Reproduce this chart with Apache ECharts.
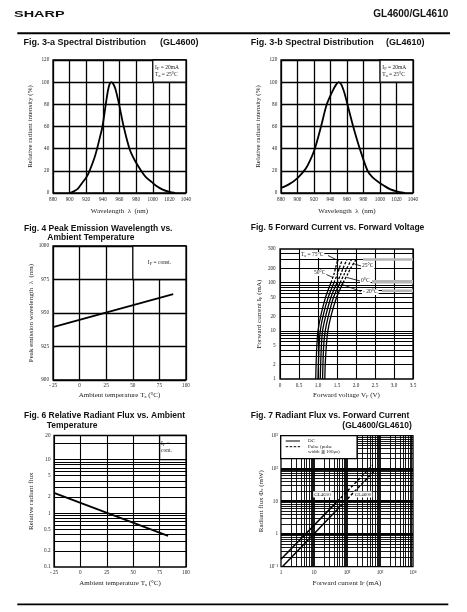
<!DOCTYPE html>
<html>
<head>
<meta charset="utf-8">
<script src="https://cdn.jsdelivr.net/npm/echarts@6.0.0/dist/echarts.min.js"></script>
<style>
html,body{margin:0;padding:0;background:#fff;}
#chart{width:467px;height:612px;}
</style>
</head>
<body>
<div id="chart"></div>
<script>
// ================= DATA =================
// Fig. 3-a Spectral distribution (GL4600)
const spec4600Wave = [900,905,910,916,920,924,930,933,937,939.5,943.5,946,948,950,952,955,959.5,965,972,978,986,992,998.5,1005,1012,1020,1027];
const spec4600Val  = [0,1.5,4,10,14,20,32,40,52,60,80,92,98,100,99,94,80,60,40,30,20,14,10,6,3,1,0];
// Fig. 3-b Spectral distribution (GL4610)
const spec4610Wave = [880,890,900,910,915,921,928.5,935.5,942.5,947,950,953,957,960.5,967.5,975.5,985,991,998,1005,1012,1020,1030];
const spec4610Val  = [4.5,8,13.5,22,29,40,60,80,92,98,100,98,90,80,60,40,20,14,10,6.5,3.5,1.5,0];
// Fig. 4 Peak emission wavelength vs ambient temperature
const fig4Temp = [-25, 88];
const fig4Peak = [939.5, 964];
// Fig. 5 Forward current vs forward voltage (DC solid, pulse dashed)
const fwdCurrentDC    = [1, 2, 5, 10, 20, 50, 100];
const fwdCurrentPulse = [100, 150, 200, 300];
const vf75   = [0.94, 0.95, 0.97, 1.00, 1.07, 1.20, 1.34];
const vf75P  = [1.34, 1.42, 1.46, 1.52];
const vf50   = [1.00, 1.01, 1.03, 1.06, 1.13, 1.27, 1.42];
const vf50P  = [1.42, 1.51, 1.56, 1.64];
const vf25   = [1.06, 1.07, 1.09, 1.12, 1.20, 1.34, 1.50];
const vf25P  = [1.50, 1.60, 1.66, 1.76];
const vf0    = [1.12, 1.13, 1.15, 1.19, 1.27, 1.41, 1.58];
const vf0P   = [1.58, 1.69, 1.76, 1.88];
const vfm20  = [1.18, 1.19, 1.22, 1.26, 1.34, 1.49, 1.66];
const vfm20P = [1.66, 1.78, 1.86, 2.00];
// Fig. 6 Relative radiant flux vs ambient temperature
const fig6Temp = [-25, 83];
const fig6Flux = [2.4, 0.38];
// Fig. 7 Radiant flux vs forward current
const if4610DC = [1, 50],    pe4610DC = [0.17, 9.7];
const if4610P  = [50, 600],  pe4610P  = [9.7, 127];
const if4600DC = [1.1, 50],  pe4600DC = [0.1, 5.5];
const if4600P  = [50, 750],  pe4600P  = [5.5, 94];

// ================= AXES / TICKS =================
const fig3XRange = [880, 1040, 20];
const fig3YRange = [0, 120, 20];
const fig4XRange = [-25, 100, 25];
const fig4YRange = [900, 1000, 25];
const fig5XRange = [0, 3.5, 0.5];
const fig5YRange = [1, 500];
const fig6XRange = [-25, 100, 25];
const fig6YRange = [0.1, 28];
const fig7XRange = [1, 10000];
const fig7YRange = [0.1, 1000];

const fig5YLabels = [1, 2, 5, 10, 20, 50, 100, 200, 500];
const fig5YGrid = [2,3,4,5,6,7,8,9,10,20,30,40,50,60,70,80,90,100,200,300,400];
const fig6YLabelVals = [0.1, 0.2, 0.5, 1, 2, 5, 10, 28];
const fig6YLabelText = ['0.1', '0.2', '0.5', '1', '2', '5', '10', '20'];
const fig6YGrid = [0.2,0.3,0.4,0.5,0.6,0.7,0.8,0.9,1,2,3,4,5,6,7,8,9,10,20];
const fig7XLabels = ['1', '10', '10²', '10³', '10⁴'];
const fig7YLabels = ['10⁻¹', '1', '10', '10²', '10³'];
const fig7XGrid = [2,3,4,5,6,7,8,9,20,30,40,50,60,70,80,90,200,300,400,500,600,700,800,900,2000,3000,4000,5000,6000,7000,8000,9000];
const fig7XDecades = [10, 100, 1000];
const fig7YGrid = [0.2,0.3,0.4,0.5,0.6,0.7,0.8,0.9,2,3,4,5,6,7,8,9,20,30,40,50,60,70,80,90,200,300,400,500,600,700,800,900];
const fig7YDecades = [1, 10, 100];

// ================= HELPERS =================
const SERIF = '"Liberation Serif","Times New Roman",serif';
const SANS = '"Liberation Sans",Arial,sans-serif';
const INK = '#1a1a1a';
const zip = (xs, ys) => xs.map((x, i) => [x, ys[i]]);
const fmtTemp = v => v < 0 ? '- ' + Math.abs(v) : String(v);
const fmtPlain = v => String(v);
const subRich = {sub: {fontFamily: SERIF, fontSize: 4.5, color: INK, verticalAlign: 'bottom'}};
const tickStyle = (margin, extra) => Object.assign({show: true, margin, fontFamily: SERIF, fontSize: 5.2, color: INK, formatter: fmtPlain}, extra || {});
const nameStyle = {fontFamily: SERIF, fontSize: 7, color: INK, rich: subRich};
const split = w => ({show: true, lineStyle: {color: '#000', width: w, type: 'solid'}});

function valAxis(gi, range, opts) {
  return Object.assign({gridIndex: gi, type: 'value', min: range[0], max: range[1], interval: range[2],
    axisLine: {show: false}, axisTick: {show: false}, splitLine: split(1.3),
    nameLocation: 'middle', nameTextStyle: nameStyle, silent: true}, opts);
}
function logAxis(gi, range, opts) {
  return Object.assign({gridIndex: gi, type: 'log', logBase: 10, min: range[0], max: range[1],
    axisLine: {show: false}, axisTick: {show: false}, splitLine: {show: false},
    nameLocation: 'middle', nameTextStyle: nameStyle, silent: true}, opts);
}
function boxMark(p1, p2, text, pos, dist) {
  return {silent: true, itemStyle: {color: '#fff', borderColor: '#000', borderWidth: 1.3},
    label: {show: true, position: pos, distance: dist, formatter: text, fontFamily: SERIF, fontSize: 5.5,
      color: INK, lineHeight: 7, rich: subRich},
    emphasis: {disabled: true},
    data: [[{coord: p1}, {coord: p2}]]};
}
function gridLinesSeries(gi, xs, ys, w, xThick, yThick, wThick) {
  const data = [];
  (xs || []).forEach(v => data.push({xAxis: v}));
  (ys || []).forEach(v => data.push({yAxis: v}));
  (xThick || []).forEach(v => data.push({xAxis: v, lineStyle: {width: wThick}}));
  (yThick || []).forEach(v => data.push({yAxis: v, lineStyle: {width: wThick}}));
  return {type: 'line', xAxisIndex: gi, yAxisIndex: gi, data: [], z: 1, silent: true,
    markLine: {silent: true, symbol: ['none', 'none'], label: {show: false}, emphasis: {disabled: true},
      lineStyle: {color: '#000', type: 'solid', width: w}, data}};
}
function curve(gi, data, extra) {
  return Object.assign({type: 'line', xAxisIndex: gi, yAxisIndex: gi, data, showSymbol: false, silent: true,
    lineStyle: {color: '#000', width: 1.8}, z: 3}, extra || {});
}

// ================= GRIDS =================
const grids = [
  {left: 53,  top: 60,    width: 133, height: 133},
  {left: 281, top: 60,    width: 132, height: 133},
  {left: 53,  top: 246,   width: 133, height: 134},
  {left: 280, top: 249,   width: 133, height: 130},
  {left: 54,  top: 435.5, width: 132, height: 131.5},
  {left: 281, top: 435.7, width: 132, height: 131}
].map(g => Object.assign(g, {show: true, borderColor: '#000', borderWidth: 1.3, backgroundColor: 'transparent'}));

const xAxes = [
  valAxis(0, fig3XRange, {axisLabel: tickStyle(3.8), name: 'Wavelength  λ  (nm)', nameGap: 14.5}),
  valAxis(1, fig3XRange, {axisLabel: tickStyle(3.8), name: 'Wavelength  λ  (nm)', nameGap: 14.5}),
  valAxis(2, fig4XRange, {axisLabel: tickStyle(2.9, {formatter: fmtTemp}), name: 'Ambient temperature T{sub|a} (°C)', nameGap: 12}),
  valAxis(3, fig5XRange, {splitLine: split(1.1), axisLabel: tickStyle(4.2, {formatter: v => v === 0 ? '0' : v.toFixed(1)}), name: 'Forward voltage V{sub|F} (V)', nameGap: 13}),
  valAxis(4, fig6XRange, {splitLine: split(1.1), axisLabel: tickStyle(2.8, {formatter: fmtTemp}), name: 'Ambient temperature T{sub|a} (°C)', nameGap: 13}),
  logAxis(5, fig7XRange, {axisLabel: tickStyle(3.1, {formatter: v => fig7XLabels[Math.round(Math.log10(v))]}), name: 'Forward current I{sub|F} (mA)', nameGap: 13})
];
const yAxes = [
  valAxis(0, fig3YRange, {axisLabel: tickStyle(3.7), name: 'Relative radiant intensity (%)', nameRotate: 90, nameGap: 19.5}),
  valAxis(1, fig3YRange, {axisLabel: tickStyle(3.7), name: 'Relative radiant intensity (%)', nameRotate: 90, nameGap: 19.8}),
  valAxis(2, fig4YRange, {axisLabel: tickStyle(4), name: 'Peak emission wavelength  λ  (nm)', nameRotate: 90, nameGap: 17}),
  logAxis(3, fig5YRange, {axisLabel: tickStyle(4.3, {customValues: fig5YLabels, formatter: v => String(Math.round(v))}), name: 'Forward current I{sub|F} (mA)', nameRotate: 90, nameGap: 17}),
  logAxis(4, fig6YRange, {axisLabel: tickStyle(3.5, {customValues: fig6YLabelVals, formatter: v => {
      let bi = 0; fig6YLabelVals.forEach((lv, i) => { if (Math.abs(Math.log10(lv) - Math.log10(v)) < Math.abs(Math.log10(fig6YLabelVals[bi]) - Math.log10(v))) bi = i; });
      return fig6YLabelText[bi]; }}), name: 'Relative radiant flux', nameRotate: 90, nameGap: 19}),
  logAxis(5, fig7YRange, {axisLabel: tickStyle(3, {formatter: v => fig7YLabels[Math.round(Math.log10(v)) + 1]}), name: 'Radiant flux Φ{sub|e} (mW)', nameRotate: 90, nameGap: 16.5})
];

// ================= SERIES =================
const dashed = {color: '#000', width: 1.3, type: [2.5, 1.5]};
const solidThin = {color: '#000', width: 1.3};
const series = [
  curve(0, zip(spec4600Wave, spec4600Val), {smooth: 0.3,
    markArea: boxMark([1000, 100], [1040, 120], 'I{sub|F} = 20mA\nT{sub|a} = 25°C', 'insideLeft', 3)}),
  curve(1, zip(spec4610Wave, spec4610Val), {smooth: 0.3,
    markArea: boxMark([1000, 100], [1040, 120], 'I{sub|F} = 20mA\nT{sub|a} = 25°C', 'insideLeft', 3)}),
  curve(2, zip(fig4Temp, fig4Peak), {markArea: boxMark([50, 975], [100, 1000], 'I{sub|F} = const.', 'inside', 0)}),
  // Fig 5
  gridLinesSeries(3, [], fig5YGrid, 1.1),
  curve(3, zip(vf75, fwdCurrentDC),  {smooth: 0.3, lineStyle: solidThin}),
  curve(3, zip(vf50, fwdCurrentDC),  {smooth: 0.3, lineStyle: solidThin}),
  curve(3, zip(vf25, fwdCurrentDC),  {smooth: 0.3, lineStyle: solidThin}),
  curve(3, zip(vf0, fwdCurrentDC),   {smooth: 0.3, lineStyle: solidThin}),
  curve(3, zip(vfm20, fwdCurrentDC), {smooth: 0.3, lineStyle: solidThin}),
  curve(3, zip(vf75P, fwdCurrentPulse),  {smooth: 0.3, lineStyle: dashed}),
  curve(3, zip(vf50P, fwdCurrentPulse),  {smooth: 0.3, lineStyle: dashed}),
  curve(3, zip(vf25P, fwdCurrentPulse),  {smooth: 0.3, lineStyle: dashed}),
  curve(3, zip(vf0P, fwdCurrentPulse),   {smooth: 0.3, lineStyle: dashed}),
  curve(3, zip(vfm20P, fwdCurrentPulse), {smooth: 0.3, lineStyle: dashed}),
  // Fig 6
  gridLinesSeries(4, [], fig6YGrid, 1.1),
  curve(4, zip(fig6Temp, fig6Flux), {markArea: boxMark([75, 10], [100, 28], 'I{sub|F} =\ncont.', 'insideLeft', 2)}),
  // Fig 7
  gridLinesSeries(5, fig7XGrid, fig7YGrid, 0.9, fig7XDecades, fig7YDecades, 1.8),
  curve(5, zip(if4610DC, pe4610DC), {lineStyle: {color: '#000', width: 1.5}}),
  curve(5, zip(if4610P, pe4610P), {lineStyle: {color: '#000', width: 1.5, type: [3, 2]}}),
  curve(5, zip(if4600DC, pe4600DC), {lineStyle: {color: '#000', width: 1.5}}),
  curve(5, zip(if4600P, pe4600P), {lineStyle: {color: '#000', width: 1.5, type: [3, 2]}})
];

// ================= GRAPHIC (header, titles, annotations) =================
function txt(text, x, y, st, props) {
  return Object.assign({type: 'text', x, y, silent: true, z: 100,
    style: Object.assign({text, fill: INK, fontFamily: SERIF, fontSize: 5.5, align: 'left', verticalAlign: 'middle'}, st || {})}, props || {});
}
function ln(x1, y1, x2, y2, w, extra) {
  return {type: 'line', silent: true, z: 100, shape: {x1, y1, x2, y2}, style: Object.assign({stroke: '#000', lineWidth: w}, extra || {})};
}
const titleSt = size => ({fontFamily: SANS, fontWeight: 'bold', fontSize: size, fill: '#111'});
const graphics = [
  txt('SHARP', 14, 14.3, {fontFamily: SANS, fontWeight: 900, fontSize: 8.5, fill: '#111'}, {scaleX: 1.7}),
  txt('GL4600/GL4610', 448.3, 14.3, {fontFamily: SANS, fontWeight: 'bold', fontSize: 10, fill: '#111', align: 'right'}),
  ln(17.3, 33.3, 450, 33.3, 2),
  ln(17.3, 604.3, 448.3, 604.3, 1.7),
  txt('Fig. 3-a Spectral Distribution', 23.5, 42.3, titleSt(9)),
  txt('(GL4600)', 160, 42.3, titleSt(9)),
  txt('Fig. 3-b Spectral Distribution', 250.7, 42.3, titleSt(9)),
  txt('(GL4610)', 386, 42.3, titleSt(9)),
  txt('Fig. 4 Peak Emission Wavelength vs.', 24, 228.3, titleSt(8.5)),
  txt('Ambient Temperature', 47.3, 237.7, titleSt(8.5)),
  txt('Fig. 5 Forward Current vs. Forward Voltage', 250.7, 227.3, titleSt(8.5)),
  txt('Fig. 6 Relative Radiant Flux vs. Ambient', 24, 415.7, titleSt(8.5)),
  txt('Temperature', 46.7, 425.7, titleSt(8.5)),
  txt('Fig. 7 Radiant Flux vs. Forward Current', 250.7, 415.7, titleSt(8.5)),
  txt('(GL4600/GL4610)', 342.3, 425.7, titleSt(8.5)),
  // Fig 5 grey scan bars
  {type: 'rect', silent: true, z: 50, shape: {x: 363, y: 258.3, width: 50, height: 2.4}, style: {fill: '#b5b5b5'}},
  {type: 'rect', silent: true, z: 50, shape: {x: 372, y: 280, width: 41, height: 3.6}, style: {fill: '#b5b5b5'}},
  {type: 'rect', silent: true, z: 50, shape: {x: 382, y: 289.5, width: 31, height: 2.6}, style: {fill: '#b5b5b5'}},
  // Fig 5 leader lines and labels
  ln(328, 255.5, 339, 261, 0.8),
  ln(353, 263.5, 361, 266, 0.8),
  ln(323, 273, 333, 277.5, 0.8),
  ln(347, 277.5, 360, 281, 0.8),
  ln(341, 284, 361, 291.5, 0.8),
  txt('T{s|a} = 75°C', 300, 255, {backgroundColor: '#fff', padding: [0, 1], rich: {s: {fontFamily: SERIF, fontSize: 4, fill: INK, verticalAlign: 'bottom'}}}),
  txt('25°C', 361, 266, {backgroundColor: '#fff', padding: [0, 1]}),
  txt('50°C', 313, 273, {backgroundColor: '#fff', padding: [0, 1]}),
  txt('0°C', 360, 281, {backgroundColor: '#fff', padding: [0, 1]}),
  txt('- 20°C', 362, 292, {backgroundColor: '#fff', padding: [0, 1]}),
  // Fig 7 legend box
  {type: 'rect', silent: true, z: 60, shape: {x: 280.7, y: 435.7, width: 76.4, height: 22.9}, style: {fill: '#fff', stroke: '#000', lineWidth: 1.3}},
  ln(285.7, 441, 300, 441, 1),
  ln(285.7, 446.7, 300, 446.7, 1, {lineDash: [2.5, 1.5]}),
  txt('DC', 308, 441, {fontSize: 5}),
  txt('Pulse (pulse', 308, 446.2, {fontSize: 5}),
  txt('width ≦ 100μs)', 308, 451.7, {fontSize: 5}),
  // Fig 7 line labels
  txt('GL4610', 322.5, 494.5, {fontSize: 5, align: 'center', backgroundColor: '#fff', padding: [0.5, 1]}),
  txt('GL4600', 363, 494.5, {fontSize: 5, align: 'center', backgroundColor: '#fff', padding: [0.5, 1]})
];

const chart = echarts.init(document.getElementById('chart'), null, {renderer: 'canvas', width: 467, height: 612});
chart.setOption({
  animation: false,
  backgroundColor: '#fff',
  textStyle: {fontFamily: SERIF},
  grid: grids,
  xAxis: xAxes,
  yAxis: yAxes,
  series: series,
  graphic: graphics
});
</script>
</body>
</html>
